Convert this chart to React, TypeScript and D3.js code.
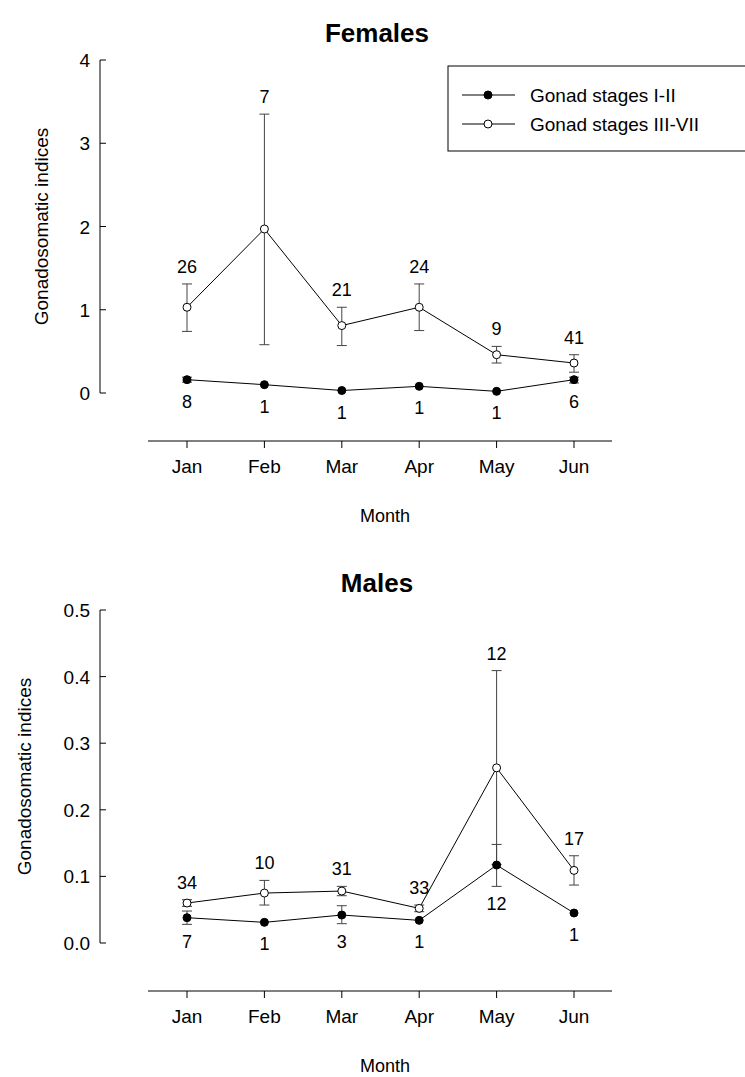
import * as d3 from 'd3';

const months = ['Jan', 'Feb', 'Mar', 'Apr', 'May', 'Jun'];

// Females
const fLowMean = [0.16, 0.1, 0.03, 0.08, 0.02, 0.16];
const fLowErrLo = [0.13, 0.1, 0.03, 0.08, 0.02, 0.12];
const fLowErrHi = [0.19, 0.1, 0.03, 0.08, 0.02, 0.19];
const fLowN = ['8', '1', '1', '1', '1', '6'];
const fHighMean = [1.03, 1.97, 0.81, 1.03, 0.46, 0.36];
const fHighErrLo = [0.74, 0.58, 0.57, 0.75, 0.36, 0.25];
const fHighErrHi = [1.31, 3.35, 1.03, 1.31, 0.56, 0.46];
const fHighN = ['26', '7', '21', '24', '9', '41'];
const fTicks = [0, 1, 2, 3, 4];

// Males
const mLowMean = [0.038, 0.031, 0.042, 0.034, 0.117, 0.045];
const mLowErrLo = [0.028, 0.031, 0.029, 0.034, 0.085, 0.045];
const mLowErrHi = [0.048, 0.031, 0.056, 0.034, 0.148, 0.045];
const mLowN = ['7', '1', '3', '1', '12', '1'];
const mHighMean = [0.06, 0.075, 0.078, 0.052, 0.263, 0.109];
const mHighErrLo = [0.055, 0.057, 0.071, 0.047, 0.118, 0.087];
const mHighErrHi = [0.065, 0.094, 0.085, 0.057, 0.409, 0.131];
const mHighN = ['34', '10', '31', '33', '12', '17'];
const mTicks = [0, 0.1, 0.2, 0.3, 0.4, 0.5];

const W = 745;
const H = 1077;
const font = 'Liberation Sans, Arial, sans-serif';

interface Series {
  mean: number[];
  lo: number[];
  hi: number[];
  n: string[];
  open: boolean;
}

interface PanelProps {
  top: number;
  title: string;
  yMax: number;
  ticks: number[];
  fmt: (v: number) => string;
  low: Series;
  high: Series;
  legend?: boolean;
}

function Panel({ top, title, yMax, ticks, fmt, low, high, legend }: PanelProps) {
  const axisX = 100;
  const y = d3.scaleLinear().domain([0, yMax]).range([top + 333, top]);
  const x = d3.scalePoint<string>().domain(months).range([187, 574]);
  const xAxisY = top + 381;
  const line = d3
    .line<number>()
    .x((_, i) => x(months[i])!)
    .y((d) => y(d));

  const drawSeries = (s: Series, labelAbove: boolean) => (
    <g>
      {s.mean.map((_, i) =>
        s.hi[i] - s.lo[i] > 0.0001 ? (
          <g key={'e' + i} stroke="#444" strokeWidth={1}>
            <line x1={x(months[i])} x2={x(months[i])} y1={y(s.lo[i])} y2={y(s.hi[i])} />
            <line x1={x(months[i])! - 5} x2={x(months[i])! + 5} y1={y(s.lo[i])} y2={y(s.lo[i])} />
            <line x1={x(months[i])! - 5} x2={x(months[i])! + 5} y1={y(s.hi[i])} y2={y(s.hi[i])} />
          </g>
        ) : null,
      )}
      <path d={line(s.mean)!} fill="none" stroke="#000" strokeWidth={1} />
      {s.mean.map((v, i) => (
        <circle
          key={'c' + i}
          cx={x(months[i])}
          cy={y(v)}
          r={4}
          fill={s.open ? '#fff' : '#000'}
          stroke="#000"
          strokeWidth={1}
        />
      ))}
      {s.n.map((t, i) => (
        <text
          key={'n' + i}
          x={x(months[i])}
          y={labelAbove ? y(s.hi[i]) - 11 : Math.max(y(s.lo[i]), y(s.mean[i]) + 4) + 24}
          textAnchor="middle"
          fontSize={18}
        >
          {t}
        </text>
      ))}
    </g>
  );

  return (
    <g fontFamily={font}>
      <text x={377} y={top - 18} textAnchor="middle" fontSize={26} fontWeight="bold">
        {title}
      </text>
      <line x1={axisX} x2={axisX} y1={y(yMax)} y2={y(0)} stroke="#000" />
      {ticks.map((t) => (
        <g key={t}>
          <line x1={axisX} x2={axisX + 6} y1={y(t)} y2={y(t)} stroke="#000" />
          <text x={axisX - 10} y={y(t) + 7} textAnchor="end" fontSize={19}>
            {fmt(t)}
          </text>
        </g>
      ))}
      <text
        transform={`translate(${title === 'Males' ? 31 : 48},${y(yMax / 2)}) rotate(-90)`}
        textAnchor="middle"
        fontSize={19}
      >
        Gonadosomatic indices
      </text>
      <line x1={148} x2={612} y1={xAxisY} y2={xAxisY} stroke="#000" />
      {months.map((m) => (
        <g key={m}>
          <line x1={x(m)} x2={x(m)} y1={xAxisY} y2={xAxisY + 7} stroke="#000" />
          <text x={x(m)} y={xAxisY + 32} textAnchor="middle" fontSize={19}>
            {m}
          </text>
        </g>
      ))}
      <text x={385} y={xAxisY + 81} textAnchor="middle" fontSize={18}>
        Month
      </text>
      {drawSeries(high, true)}
      {drawSeries(low, false)}
      {legend && (
        <g>
          <rect x={448} y={66} width={300} height={85} fill="#fff" stroke="#000" />
          {[low, high].map((s, i) => (
            <g key={i}>
              <line x1={462} x2={515} y1={95 + i * 29} y2={95 + i * 29} stroke="#000" />
              <circle cx={488} cy={95 + i * 29} r={4} fill={s.open ? '#fff' : '#000'} stroke="#000" />
              <text x={530} y={102 + i * 29} fontSize={19}>
                {i === 0 ? 'Gonad stages I-II' : 'Gonad stages III-VII'}
              </text>
            </g>
          ))}
        </g>
      )}
    </g>
  );
}

export default function App() {
  return (
    <svg width={W} height={H} style={{ position: 'absolute', left: 0, top: 0, background: '#fff' }}>
      <rect width={W} height={H} fill="#fff" />
      <Panel
        top={60}
        title="Females"
        yMax={4}
        ticks={fTicks}
        fmt={(v) => String(v)}
        low={{ mean: fLowMean, lo: fLowErrLo, hi: fLowErrHi, n: fLowN, open: false }}
        high={{ mean: fHighMean, lo: fHighErrLo, hi: fHighErrHi, n: fHighN, open: true }}
        legend
      />
      <Panel
        top={610}
        title="Males"
        yMax={0.5}
        ticks={mTicks}
        fmt={(v) => v.toFixed(1)}
        low={{ mean: mLowMean, lo: mLowErrLo, hi: mLowErrHi, n: mLowN, open: false }}
        high={{ mean: mHighMean, lo: mHighErrLo, hi: mHighErrHi, n: mHighN, open: true }}
      />
    </svg>
  );
}
